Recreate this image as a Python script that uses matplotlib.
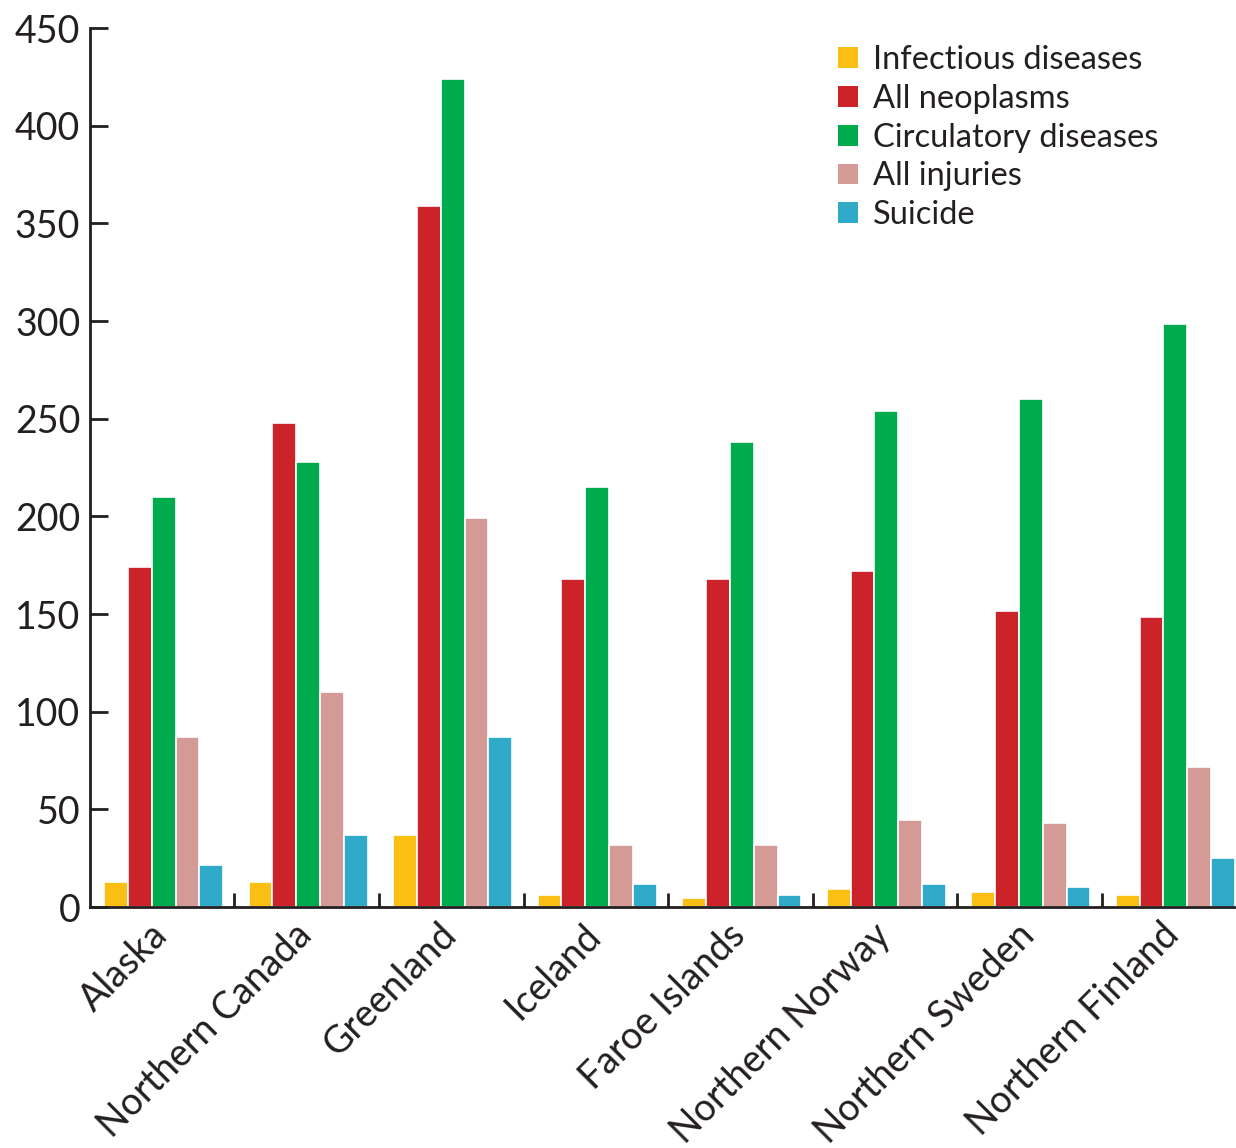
import numpy as np
import matplotlib.pyplot as plt
from matplotlib.patches import Patch

regions = ["Alaska", "Northern Canada", "Greenland", "Iceland", "Faroe Islands",
           "Northern Norway", "Northern Sweden", "Northern Finland"]

series = ["Infectious diseases", "All neoplasms", "Circulatory diseases",
          "All injuries", "Suicide"]

infectious = [13, 13, 37, 6, 4.5, 9, 7.5, 6]
neoplasms = [174, 248, 359, 168, 168, 172, 151.5, 148.5]
circulatory = [210, 228, 424, 215, 238, 254, 260, 298.5]
injuries = [87, 110, 199, 32, 32, 44.5, 43, 71.5]
suicide = [21.5, 37, 87, 12, 6, 12, 10.5, 25]

colors = ["#FBBF14", "#CC2229", "#00AB4E", "#D49A96", "#2FAAC9"]

plt.rcParams['font.family'] = ['Lato', 'DejaVu Sans']
txt = "#231F20"

fig = plt.figure(figsize=(12.36, 11.48), dpi=100)
ax = fig.add_axes([0.0728, 0.2099, 1 - 0.0728, 0.7657])

x = np.arange(len(regions))
w = 0.165
data = [infectious, neoplasms, circulatory, injuries, suicide]
for k, vals in enumerate(data):
    ax.bar(x + (k - 2) * w + 0.01, vals, width=w, color=colors[k],
           edgecolor="white", linewidth=1.2)

ax.set_ylim(0, 450)
ax.set_xlim(-0.5, 7.43)
ax.set_yticks(range(0, 451, 50))
ax.tick_params(axis="y", direction="in", length=13, width=2, labelsize=27,
               labelcolor=txt, pad=7, color=txt)
ax.set_xticks(x[:-1] + 0.5)
ax.set_xticklabels([])
ax.tick_params(axis="x", direction="in", length=10, width=2, color=txt)

for i, name in enumerate(regions):
    ax.text(i - 0.09, -5, name, rotation=45, ha="right", va="top",
            rotation_mode="anchor", fontsize=27, color=txt)

for s in ["top", "right"]:
    ax.spines[s].set_visible(False)
for s in ["left", "bottom"]:
    ax.spines[s].set_linewidth(2)
    ax.spines[s].set_color(txt)

handles = [Patch(facecolor=c, edgecolor="none") for c in colors]
leg = fig.legend(handles, series, loc="upper left", bbox_to_anchor=(0.665, 0.975),
                 frameon=False, fontsize=23.5, handlelength=0.6, handleheight=0.6,
                 handletextpad=0.45, labelspacing=0.27, borderpad=0)
for t in leg.get_texts():
    t.set_color(txt)

fig.savefig("out.png", dpi=100)
